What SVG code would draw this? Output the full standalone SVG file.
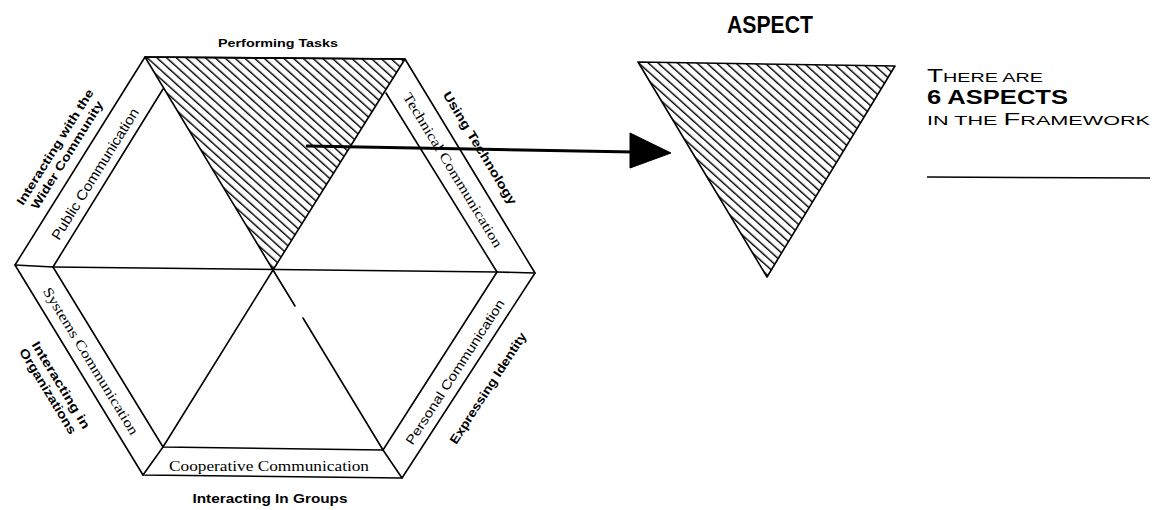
<svg xmlns="http://www.w3.org/2000/svg" width="1155" height="510" viewBox="0 0 1155 510">
<style>
.ln{fill:none;stroke:#000;stroke-width:1.6;stroke-linejoin:round;stroke-linecap:round}
.hatched{fill:url(#hatch);stroke:#000;stroke-width:1.6;stroke-linejoin:round}
.sans{font-family:"Liberation Sans",Arial,sans-serif;fill:#000}
.bold{font-family:"Liberation Sans",Arial,sans-serif;font-weight:bold;fill:#000}
.serif{font-family:"Liberation Serif","Times New Roman",serif;fill:#000}
</style>
<defs>
<pattern id="hatch" width="10" height="6.5" patternUnits="userSpaceOnUse" patternTransform="rotate(42)">
<line x1="0" y1="3" x2="10" y2="3" stroke="#000" stroke-width="1.4"/>
</pattern>
</defs>
<rect width="1155" height="510" fill="#fff"/>

<g id="aspect-performing-tasks">
<polygon points="145,57 405,59 273,270" class="hatched"/>
</g>

<g id="hexagon-frame">
<polygon points="145,57 405,59 535,273 402,478 143,475 15,265" class="ln"/>
<polyline points="163,89 53,267 163,447 383,450 497,272 386,93" class="ln"/>
<line x1="15" y1="265" x2="53" y2="267" class="ln"/>
<line x1="143" y1="475" x2="163" y2="447" class="ln"/>
<line x1="402" y1="478" x2="383" y2="450" class="ln"/>
<line x1="535" y1="273" x2="497" y2="272" class="ln"/>
<line x1="53" y1="267" x2="497" y2="272" class="ln"/>
<line x1="273" y1="270" x2="163" y2="447" class="ln"/>
<line x1="273" y1="270" x2="295" y2="306" class="ln"/>
<line x1="303" y1="318" x2="383" y2="450" class="ln"/>
</g>

<g id="label-performing-tasks">
<text class="bold" x="278" y="47" font-size="11.5" text-anchor="middle" textLength="120" lengthAdjust="spacingAndGlyphs">Performing Tasks</text>
</g>
<g id="label-wider-community">
<text class="bold" font-size="12" text-anchor="middle" dy="0.35em" transform="translate(55,147) rotate(-58)" textLength="134" lengthAdjust="spacingAndGlyphs">Interacting with the</text>
<text class="bold" font-size="12" text-anchor="middle" dy="0.35em" transform="translate(67,155) rotate(-58)" textLength="125" lengthAdjust="spacingAndGlyphs">Wider Community</text>
</g>
<g id="label-public-communication">
<text class="sans" font-size="14" text-anchor="middle" dy="0.35em" transform="translate(95,174) rotate(-58)" textLength="152" lengthAdjust="spacingAndGlyphs">Public Communication</text>
</g>
<g id="label-using-technology">
<text class="bold" font-size="12.5" text-anchor="middle" dy="0.35em" transform="translate(480,148) rotate(58.7)" textLength="130" lengthAdjust="spacingAndGlyphs">Using Technology</text>
</g>
<g id="label-technical-communication">
<text class="serif" font-size="14" text-anchor="middle" dy="0.35em" transform="translate(453,170) rotate(58.7)" textLength="178" lengthAdjust="spacingAndGlyphs">Technical Communication</text>
</g>
<g id="label-personal-communication">
<text class="sans" font-size="13" text-anchor="middle" dy="0.35em" transform="translate(455,372) rotate(-57)" textLength="170" lengthAdjust="spacingAndGlyphs">Personal Communication</text>
</g>
<g id="label-expressing-identity">
<text class="bold" font-size="12.5" text-anchor="middle" dy="0.35em" transform="translate(488,388) rotate(-57)" textLength="130" lengthAdjust="spacingAndGlyphs">Expressing Identity</text>
</g>
<g id="label-systems-communication">
<text class="serif" font-size="14" text-anchor="middle" dy="0.35em" transform="translate(91,361) rotate(58.6)" textLength="170" lengthAdjust="spacingAndGlyphs">Systems Communication</text>
</g>
<g id="label-organizations">
<text class="bold" font-size="12.5" text-anchor="middle" dy="0.35em" transform="translate(61,385) rotate(58.6)" textLength="100" lengthAdjust="spacingAndGlyphs">Interacting in</text>
<text class="bold" font-size="12.5" text-anchor="middle" dy="0.35em" transform="translate(48,391) rotate(58.6)" textLength="98" lengthAdjust="spacingAndGlyphs">Organizations</text>
</g>
<g id="label-cooperative-communication">
<text class="serif" x="269" y="471" font-size="14" text-anchor="middle" textLength="200" lengthAdjust="spacingAndGlyphs">Cooperative Communication</text>
</g>
<g id="label-interacting-groups">
<text class="bold" x="270" y="503" font-size="12" text-anchor="middle" textLength="155" lengthAdjust="spacingAndGlyphs">Interacting In Groups</text>
</g>

<g id="connectors">
<line x1="306" y1="146" x2="634" y2="152" stroke="#000" stroke-width="3"/>
<polygon points="630,133 671,153 630,168" fill="#000" stroke="#000" stroke-width="1" stroke-linejoin="miter"/>
</g>

<g id="aspect">
<text class="bold" x="770" y="33" font-size="24" text-anchor="middle" textLength="86" lengthAdjust="spacingAndGlyphs">ASPECT</text>
<polygon points="638,62 895,66 767,277" class="hatched" stroke-width="2"/>
</g>

<g id="caption">
<text class="sans" x="927" y="82" font-size="13.5" textLength="116" lengthAdjust="spacingAndGlyphs"><tspan font-size="18">T</tspan>HERE ARE</text>
<text class="bold" x="927" y="104" font-size="20.5" textLength="141" lengthAdjust="spacingAndGlyphs">6 ASPECTS</text>
<text class="sans" x="927" y="124.5" font-size="13" textLength="223" lengthAdjust="spacingAndGlyphs">IN THE <tspan font-size="16.5">F</tspan>RAMEWORK</text>
<line x1="927" y1="177" x2="1150" y2="178" stroke="#000" stroke-width="1.5"/>
</g>
</svg>
